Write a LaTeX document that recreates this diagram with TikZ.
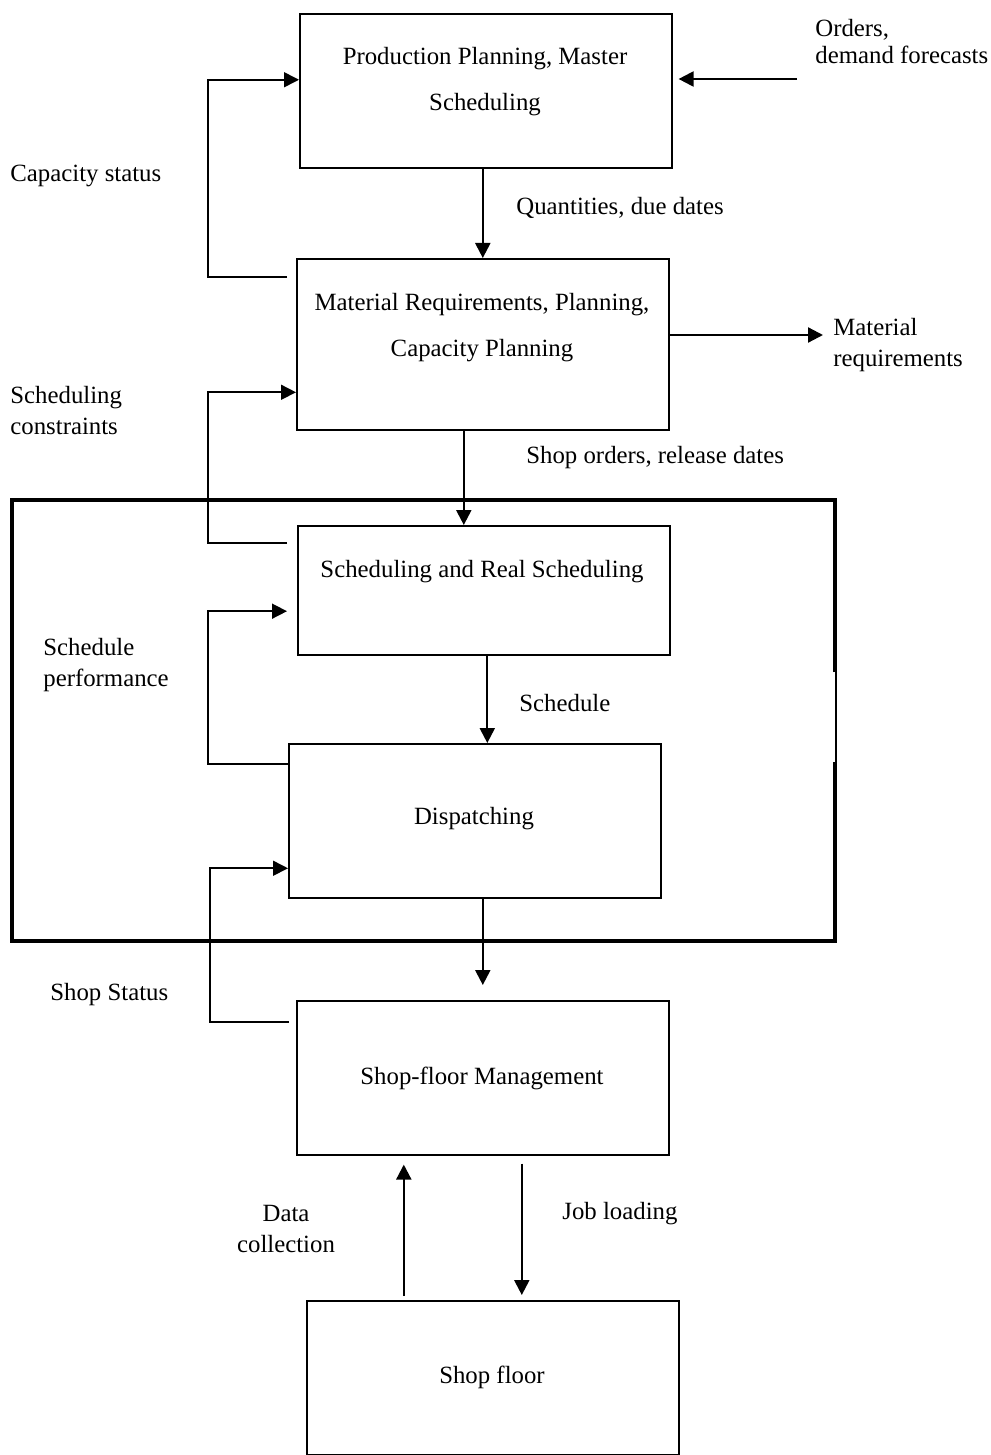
\documentclass[tikz,border=0pt]{standalone}
\usepackage{fontspec}
\setmainfont{Liberation Serif}
\usetikzlibrary{arrows.meta,calc}
\begin{document}
\begin{tikzpicture}[x=0.5pt,y=-0.5pt,
  box/.style={draw,line width=0.8pt,minimum width=186pt,inner sep=0pt,anchor=north west},
  boxtext/.style={font=\fontsize{12.4pt}{23pt}\selectfont,align=center,inner sep=0pt},
  lbl/.style={font=\fontsize{12.4pt}{15.5pt}\selectfont,align=left,inner sep=0pt,anchor=west},
  arr/.style={line width=1.1pt,-{Triangle[length=7.5pt,width=7.5pt]}},
  fb/.style={line width=0.8pt,line join=miter,-{Triangle[length=7.5pt,width=7.5pt]}},
  frame/.style={line width=1.6pt,line join=miter}]
\useasboundingbox (0,0) rectangle (990,1455);

% boxes
\node[box,minimum height=77pt]   (b1) at (299,13)   {};
\node[box,minimum height=85.5pt] (b2) at (296,258)  {};
\node[box,minimum height=64.5pt] (b3) at (297,525)  {};
\node[box,minimum height=77pt]   (b4) at (288,743)  {};
\node[box,minimum height=77pt]   (b5) at (296,1000) {};
\node[box,minimum height=77pt]   (b6) at (306,1300) {};

% box texts
\node[boxtext] (t1) at (485,82)   {Production Planning, Master\\Scheduling};
\node[boxtext] (t2) at (482,328)  {Material Requirements, Planning,\\Capacity Planning};
\node[boxtext] (t3) at (482,572)  {Scheduling and Real Scheduling};
\node[boxtext] (t4) at (474,819)  {Dispatching};
\node[boxtext] (t5) at (482,1078) {Shop-floor Management};
\node[boxtext] (t6) at (492,1377) {Shop floor};

% surrounding frame of the scheduling section
\draw[frame] (835,672) -- (835,500) -- (12,500) -- (12,941) -- (835,941) -- (835,762);
\draw[line width=0.6pt] (836,672) -- (836,762);

% main downward flow
\draw[arr] ([xshift=-1.5pt]b1.south) -- ([xshift=-1.5pt]b1.south |- b2.north);
\draw[arr] ([xshift=-9.5pt]b2.south) -- ([xshift=-9.5pt]b2.south |- b3.north);
\draw[arr] ([xshift=1.75pt]b3.south) -- ([xshift=1.75pt]b3.south |- b4.north);
\draw[arr,shorten >=7.5pt] ([xshift=4pt]b4.south) -- ([xshift=4pt]b4.south |- b5.north);

% shop floor exchange
\draw[arr,shorten <=2pt,shorten >=4.5pt] ([xshift=-44.5pt]b6.north) -- ([xshift=-44.5pt]b6.north |- b5.south);
\draw[arr,shorten <=4pt,shorten >=2.5pt] ([xshift=14.5pt]b6.north |- b5.south) -- ([xshift=14.5pt]b6.north);

% external inputs and outputs
\coordinate (ordsrc) at (797,79);
\draw[arr,shorten >=3pt] (ordsrc) -- (ordsrc -| b1.east);
\coordinate (matdst) at (823,335);
\draw[arr] (matdst -| b2.east) -- (matdst);

% feedback loops on the left
\coordinate (railA) at (208,0);
\coordinate (railB) at (210,0);

\coordinate (s1) at ($(b2.north west)!0.111!(b2.south west)+(-4.5pt,0)$);
\coordinate (e1) at ($(b1.north west)!0.429!(b1.south west)$);
\draw[fb] (s1) -| (railA |- e1) -- (e1);

\coordinate (s2) at ($(b3.north west)!0.14!(b3.south west)+(-5pt,0)$);
\coordinate (e2) at ($(b2.north west)!0.778!(b2.south west)$);
\draw[fb] (s2) -| (railA |- e2) -- (e2);

\coordinate (s3) at ($(b4.north west)!0.136!(b4.south west)$);
\coordinate (e3) at ($(b3.north west)!0.66!(b3.south west)$);
\draw[fb,shorten >=5pt] (s3) -| (railA |- e3) -- (e3);

\coordinate (s4) at ($(b5.north west)!0.143!(b5.south west)+(-3.5pt,0)$);
\coordinate (e4) at ($(b4.north west)!0.805!(b4.south west)$);
\draw[fb] (s4) -| (railB |- e4) -- (e4);

% labels
\node[lbl,font=\fontsize{12.4pt}{13.5pt}\selectfont] (l1) at (815,42)  {Orders,\\demand forecasts};
\node[lbl] (l2) at (10,176)  {Capacity status};
\node[lbl] (l3) at (516,208) {Quantities, due dates};
\node[lbl] (l4) at (833,345) {Material\\requirements};
\node[lbl] (l5) at (10,411)  {Scheduling\\constraints};
\node[lbl] (l6) at (526,458) {Shop orders, release dates};
\node[lbl] (l7) at (43,665)  {Schedule\\performance};
\node[lbl] (l8) at (519,703) {Schedule};
\node[lbl] (l9) at (50,995)  {Shop Status};
\node[lbl,align=center,anchor=center] (l10) at (286,1229) {Data\\collection};
\node[lbl] (l11) at (562,1214) {Job loading};
\end{tikzpicture}
\end{document}
